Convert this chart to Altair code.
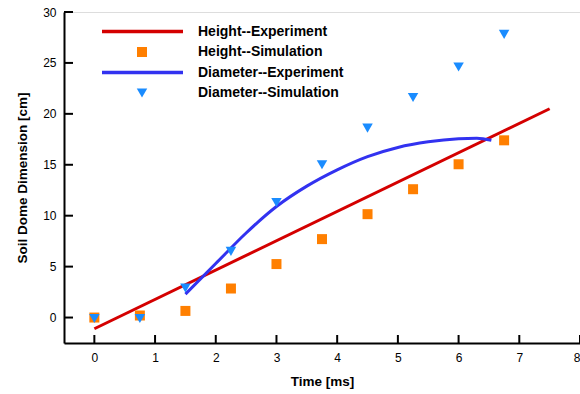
import altair as alt
import pandas as pd

# Simulation samples (time in ms, dimension in cm)
sim_time = [0, 0.75, 1.5, 2.25, 3, 3.75, 4.5, 5.25, 6, 6.75]
height_sim = [0.0, 0.2, 0.65, 2.85, 5.25, 7.7, 10.15, 12.6, 15.05, 17.4]
diameter_sim = [-0.1, -0.1, 2.9, 6.5, 11.3, 15.0, 18.6, 21.6, 24.6, 27.8]

# Experimental fits
height_exp_time = [0.0, 7.5]
height_exp = [-1.1, 20.5]
diam_exp_time = [1.5, 2.0, 2.5, 3.0, 3.5, 4.0, 4.5, 5.0, 5.5, 6.0, 6.3, 6.54]
diam_exp = [2.3, 5.3, 8.3, 10.9, 12.9, 14.5, 15.8, 16.7, 17.25, 17.55, 17.6, 17.4]

x_ticks = [0, 1, 2, 3, 4, 5, 6, 7, 8]
y_ticks = [0, 5, 10, 15, 20, 25, 30]

legend_labels = ["Height--Experiment", "Height--Simulation",
                 "Diameter--Experiment", "Diameter--Simulation"]

RED = "#d40000"
ORANGE = "#ff7f00"
BLUE = "#3232f0"
SKY = "#1a8cff"
FONT = "Liberation Sans"

W, H = 516, 331

xs = alt.Scale(domain=[-0.5, 8], nice=False, zero=False)
ys = alt.Scale(domain=[-2.5, 30], nice=False, zero=False)

x_axis = alt.Axis(values=x_ticks, format="d", tickSize=0, labelPadding=9,
                  domainWidth=2, domainColor="black", grid=False,
                  labelFontSize=12, labelColor="black", title="Time [ms]",
                  titleFontSize=13.5, titleFontWeight="bold", titlePadding=11,
                  labelFont=FONT, titleFont=FONT, titleColor="black")
y_axis = alt.Axis(values=y_ticks, format="d", tickSize=0, labelPadding=8,
                  domainWidth=2, domainColor="black", grid=False,
                  labelFontSize=12, labelColor="black",
                  title="Soil Dome Dimension [cm]", titleFontSize=13.5,
                  titleFontWeight="bold", titlePadding=13, labelFont=FONT,
                  titleFont=FONT, titleColor="black")

sim_df = pd.DataFrame({"t": sim_time, "h": height_sim, "d": diameter_sim})
hexp_df = pd.DataFrame({"t": height_exp_time, "v": height_exp})
dexp_df = pd.DataFrame({"t": diam_exp_time, "v": diam_exp})

height_line = alt.Chart(hexp_df).mark_line(color=RED, strokeWidth=3).encode(
    x=alt.X("t:Q", scale=xs, axis=x_axis),
    y=alt.Y("v:Q", scale=ys, axis=y_axis),
)
diam_line = alt.Chart(dexp_df).mark_line(
    color=BLUE, strokeWidth=3, interpolate="monotone"
).encode(x=alt.X("t:Q", scale=xs), y=alt.Y("v:Q", scale=ys))

height_pts = alt.Chart(sim_df).mark_point(
    shape="square", filled=True, color=ORANGE, size=100, opacity=1
).encode(x=alt.X("t:Q", scale=xs), y=alt.Y("h:Q", scale=ys))
diam_pts = alt.Chart(sim_df).mark_point(
    shape="triangle-down", filled=True, color=SKY, size=110, opacity=1
).encode(x=alt.X("t:Q", scale=xs), y=alt.Y("d:Q", scale=ys))

# Inward-pointing axis ticks
xt = alt.Chart(pd.DataFrame({"t": x_ticks})).mark_rule(
    color="black", strokeWidth=2
).encode(x=alt.X("t:Q", scale=xs), y=alt.value(H), y2=alt.value(H - 8))
yt = alt.Chart(pd.DataFrame({"v": y_ticks})).mark_rule(
    color="black", strokeWidth=2
).encode(y=alt.Y("v:Q", scale=ys), x=alt.value(0), x2=alt.value(9))

# Legend drawn inside the plot area
row_y = [19.5, 40, 60.5, 81]
leg = []
for i, (lab, yy) in enumerate(zip(legend_labels, row_y)):
    base = alt.Chart(pd.DataFrame({"label": [lab]}))
    if i == 0 or i == 2:
        leg.append(base.mark_rule(color=RED if i == 0 else BLUE, strokeWidth=3.5).encode(
            x=alt.value(38), x2=alt.value(119), y=alt.value(yy)))
    else:
        leg.append(base.mark_point(
            shape="square" if i == 1 else "triangle-down", filled=True,
            color=ORANGE if i == 1 else SKY, size=100 if i == 1 else 110, opacity=1
        ).encode(x=alt.value(78), y=alt.value(yy)))
    leg.append(base.mark_text(align="left", baseline="middle", font=FONT,
                              fontSize=14, fontWeight="bold", color="black").encode(
        x=alt.value(134), y=alt.value(yy), text="label:N"))

chart = alt.layer(
    height_line, diam_line, height_pts, diam_pts, xt, yt, *leg
).properties(
    width=W, height=H,
    autosize=alt.AutoSizeParams(type="none"),
    padding={"left": 64, "top": 12, "right": 0, "bottom": 51},
).configure_view(stroke=None).configure(background="white")

chart.save("out.html", embed_options={"renderer": "svg", "actions": False})
